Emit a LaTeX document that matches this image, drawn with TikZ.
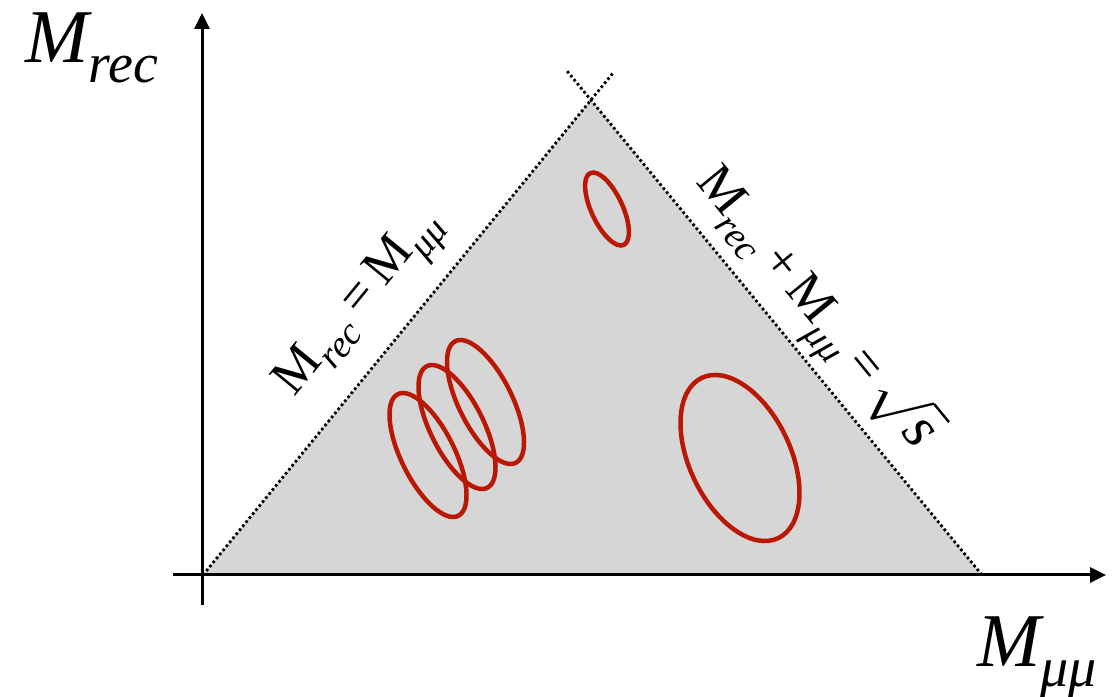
\documentclass[tikz,border=0pt]{standalone}
\usepackage{fontspec}
\usepackage{graphicx}
\setmainfont{Liberation Serif}
\usetikzlibrary{arrows.meta}
\definecolor{triGray}{RGB}{214,214,214}
\definecolor{ellred}{RGB}{187,24,4}
\newcommand\axlab[1]{{\fontsize{76}{76}\selectfont\itshape M}\raisebox{-20pt}{\fontsize{56}{56}\selectfont\itshape #1}}
\newcommand\rlM[1]{{\fontsize{52}{52}\selectfont M}\raisebox{-14pt}{\fontsize{38}{38}\selectfont\itshape #1}}
\newcommand\rootS{{\fontsize{24.88}{26}\selectfont\scalebox{2.4}{$\sqrt{\hbox{\itshape s}}$}}}
\begin{document}
\begin{tikzpicture}[x=1pt,y=1pt,
  axis/.style={line width=3pt, -{Triangle[length=16pt,width=15pt]}},
  edge/.style={line width=2.8pt, dash pattern=on 2.6pt off 2.6pt},
  blob/.style={draw=ellred, line width=4.5pt},
  lab/.style={inner sep=0pt, font=\fontsize{52}{52}\selectfont}]
\useasboundingbox (0,0) rectangle (1116,696);
\coordinate (O) at (203,121);
\coordinate (A) at (591,596);
\coordinate (B) at (982,121);
\fill[triGray] (O) -- (A) -- (B) -- cycle;
\coordinate (Aend) at (613,623);
\coordinate (Bend) at (567,625);
\draw[edge] (O) -- (Aend);
\draw[edge] (B) -- (Bend);
\coordinate (xs) at (173,121);
\coordinate (xe) at (1106,121);
\coordinate (ys) at (202,91);
\coordinate (ye) at (202,683);
\draw[axis] (xs) -- (xe);
\draw[axis] (ys) -- (ye);
\draw[blob, shift={(607,487)}, rotate=25] (0,0) ellipse [x radius=15.6, y radius=39.6];
\draw[blob, shift={(740,238)}, rotate=25.5] (0,0) ellipse [x radius=50.5, y radius=88.8];
\draw[blob, shift={(428,241)}, rotate=26.4] (0,0) ellipse [x radius=26.7, y radius=67.9];
\draw[blob, shift={(457,269)}, rotate=26.4] (0,0) ellipse [x radius=26.7, y radius=67.9];
\draw[blob, shift={(485.5,294)}, rotate=26.4] (0,0) ellipse [x radius=26.7, y radius=67.9];
\node[anchor=base west, inner sep=0pt] (ylab) at (25,633) {\axlab{rec}};
\node[anchor=base west, inner sep=0pt] (xlab) at (977,30) {\axlab{μμ}};
\node[lab, rotate=50.7] (l1) at (362,390) {\rlM{rec}\hspace{10pt}=\hspace{10pt}\rlM{μμ}};
\node[lab, rotate=-50.7] (l2) at (815,388) {\rlM{rec}\hspace{9pt}+\hspace{9pt}\rlM{μμ}\hspace{10pt}=\hspace{9pt}\rootS};
\end{tikzpicture}
\end{document}
